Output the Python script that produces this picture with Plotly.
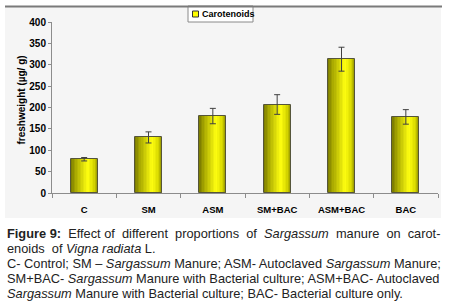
import plotly.graph_objects as go

categories = ["C", "SM", "ASM", "SM+BAC", "ASM+BAC", "BAC"]
carotenoids = [79, 130, 180, 207, 313, 178]
errors = [4, 13, 18, 23, 28, 17]
series_name = "Carotenoids"
y_ticks = [0, 50, 100, 150, 200, 250, 300, 350, 400]

FONT = "Liberation Sans, Arial, sans-serif"
W, H = 450, 306
L, R, T, B = 52, 12, 22, 113
PW, PH = W - L - R, H - T - B


def P(x):
    return (x - L) / PW


def Q(y):
    return (H - B - y) / PH


BAR_W = 0.42
stops = [(0.0, (0x78, 0x78, 0x00)), (0.18, (0xa8, 0xa8, 0x00)),
         (0.62, (0xff, 0xff, 0x10)), (0.85, (0xd8, 0xd8, 0x00)), (1.0, (0x98, 0x98, 0x00))]


def shade(t):
    for (t0, c0), (t1, c1) in zip(stops[:-1], stops[1:]):
        if t0 <= t <= t1:
            f = (t - t0) / (t1 - t0)
            c = [round(a + (b - a) * f) for a, b in zip(c0, c1)]
            return "rgb(%d,%d,%d)" % tuple(c)
    return "rgb(%d,%d,%d)" % stops[-1][1]


fig = go.Figure()
N = 18
for j in range(N):
    start = j / N
    fig.add_trace(go.Bar(
        x=categories, y=carotenoids,
        width=BAR_W * (1 - start), offset=-BAR_W / 2 + BAR_W * start,
        marker=dict(color=shade((j + 0.5) / N), line=dict(width=0)),
        showlegend=False, hoverinfo="skip"))

# outline
fig.add_trace(go.Bar(
    x=categories, y=carotenoids, width=BAR_W,
    marker=dict(color="rgba(0,0,0,0)", line=dict(color="#55553a", width=1)),
    showlegend=False, name=series_name))

# error bars
fig.add_trace(go.Scatter(
    x=categories, y=carotenoids, mode="markers",
    marker=dict(size=1, opacity=0),
    error_y=dict(type="data", array=errors, color="#404040", thickness=1, width=3),
    showlegend=False, hoverinfo="skip"))

shapes = [
    dict(type="rect", xref="paper", yref="paper", x0=P(5), x1=P(441), y0=Q(218), y1=Q(7),
         fillcolor="#f5f5f5", line=dict(width=0), layer="below"),
    # legend box
    dict(type="rect", xref="paper", yref="paper", x0=P(188), x1=P(253), y0=Q(22), y1=Q(6),
         fillcolor="white", line=dict(color="#8a8a8a", width=1), layer="above"),
    dict(type="line", xref="paper", yref="paper", x0=P(5), x1=P(442), y0=Q(6.5), y1=Q(6.5),
         line=dict(color="#7a7a7a", width=2)),
    # legend symbol
    dict(type="rect", xref="paper", yref="paper", x0=P(192.5), x1=P(198.5), y0=Q(17), y1=Q(11),
         fillcolor="#ffff00", line=dict(color="#333333", width=1)),
]

annotations = [
    dict(xref="paper", yref="paper", x=P(199.5), y=Q(14), xanchor="left", yanchor="middle",
         text="<b>" + series_name + "</b>", showarrow=False,
         font=dict(family=FONT, size=9, color="black")),
    # y title
    dict(xref="paper", yref="paper", x=P(13), y=Q(100), textangle=-90,
         text="<b>freshweight (µg/ g)</b>", showarrow=False,
         font=dict(family=FONT, size=10, color="black")),
]

cap_font = dict(family=FONT, size=12.8, color="#222222")
S = "&nbsp; "
caption = [
    "<b>Figure 9:</b>" + S + "Effect of" + S + "different" + S + "proportions" + S + "of" + S
    + "<i>Sargassum</i>" + S + "manure" + S + "on" + S + "carot-",
    "enoids  of <i>Vigna radiata</i> L.",
    "C- Control; SM – <i>Sargassum</i> Manure; ASM- Autoclaved <i>Sargassum</i> Manure;",
    "SM+BAC- <i>Sargassum</i> Manure with Bacterial culture; ASM+BAC- Autoclaved",
    "<i>Sargassum</i> Manure with Bacterial culture; BAC- Bacterial culture only.",
]
for i, line in enumerate(caption):
    annotations.append(dict(xref="paper", yref="paper", x=P(5), y=Q(233 + 15 * i),
                            xanchor="left", yanchor="middle", text=line, showarrow=False,
                            font=cap_font))

fig.update_layout(
    width=W, height=H,
    margin=dict(l=L, r=R, t=T, b=B, pad=0),
    paper_bgcolor="white", plot_bgcolor="rgba(0,0,0,0)",
    barmode="overlay", bargap=0,
    font=dict(family=FONT, color="black"),
    shapes=shapes, annotations=annotations,
    xaxis=dict(type="category", range=[-0.5, 5.5], showgrid=False, zeroline=False,
               showline=True, linecolor="#8c8c8c", linewidth=1,
               ticks="outside", tickson="boundaries", ticklen=4, tickcolor="#8c8c8c",
               tickfont=dict(family=FONT, size=9.5, weight="bold", color="black"),
               ticklabelstandoff=8),
    yaxis=dict(range=[0, 400], tickvals=y_ticks, showgrid=False, zeroline=False,
               showline=True, linecolor="#8c8c8c", linewidth=1,
               ticks="outside", ticklen=3, tickcolor="#8c8c8c",
               tickfont=dict(family=FONT, size=10, weight="bold", color="black")),
)

fig.write_html("out.html", config={"displayModeBar": False},
               post_script="document.body.style.margin='0px';")
